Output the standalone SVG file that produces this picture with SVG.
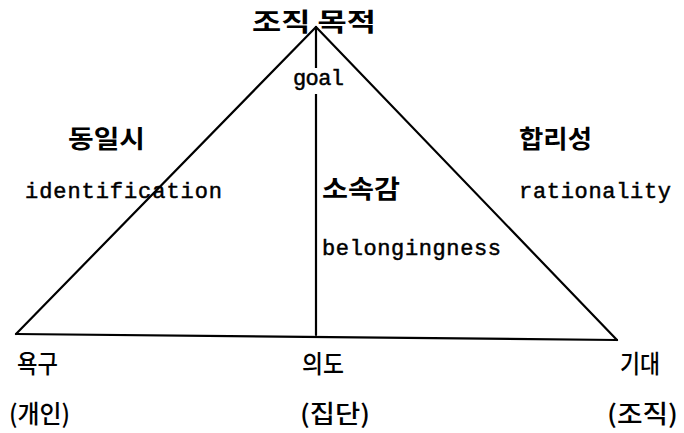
<svg xmlns="http://www.w3.org/2000/svg" width="684" height="433" viewBox="0 0 684 433">
<style>
.ko{font-family:"Noto Sans CJK KR","Noto Sans",sans-serif;font-size:25px;font-weight:bold;fill:#000}
.ko2{font-family:"Noto Sans CJK KR","Noto Sans",sans-serif;font-size:25px;font-weight:500;fill:#000}
.en{font-family:"Liberation Mono","DejaVu Sans Mono",monospace;font-size:22px;fill:#000;stroke:#000;stroke-width:0.5}
.ln{stroke:#000;stroke-width:2.2;fill:none;stroke-linecap:round}
</style>
<rect width="684" height="433" fill="#fff"/>
<g id="connectors">
<line class="ln" x1="316" y1="27" x2="16" y2="334"/>
<line class="ln" x1="316" y1="27" x2="617" y2="340"/>
<line class="ln" x1="16" y1="334" x2="617" y2="340"/>
<line class="ln" x1="316" y1="27" x2="316" y2="335"/>
</g>
<g id="apex"><text class="ko" x="252" y="31" textLength="124" lengthAdjust="spacingAndGlyphs">조직 목적</text></g>
<g id="goal"><rect x="292" y="68" width="54" height="26" fill="#fff"/><text class="en" x="293" y="85" textLength="51">goal</text></g>
<g id="identification-node">
<text class="ko" x="68" y="148" textLength="77" lengthAdjust="spacingAndGlyphs">동일시</text>
<text class="en" x="25" y="198" textLength="197">identification</text>
</g>
<g id="belonging-node">
<text class="ko" x="322" y="198" textLength="78" lengthAdjust="spacingAndGlyphs">소속감</text>
<text class="en" x="322" y="255" textLength="179">belongingness</text>
</g>
<g id="rationality-node">
<text class="ko" x="519" y="148" textLength="73" lengthAdjust="spacingAndGlyphs">합리성</text>
<text class="en" x="519" y="198" textLength="152">rationality</text>
</g>
<g id="need"><text class="ko2" x="17" y="373" textLength="41" lengthAdjust="spacingAndGlyphs">욕구</text><text class="ko2" x="9" y="423" textLength="61" lengthAdjust="spacingAndGlyphs">(개인)</text></g>
<g id="intent"><text class="ko2" x="302" y="373" textLength="42" lengthAdjust="spacingAndGlyphs">의도</text><text class="ko2" x="300" y="423" textLength="70" lengthAdjust="spacingAndGlyphs">(집단)</text></g>
<g id="expectation"><text class="ko2" x="620" y="373" textLength="40" lengthAdjust="spacingAndGlyphs">기대</text><text class="ko2" x="607" y="423" textLength="71" lengthAdjust="spacingAndGlyphs">(조직)</text></g>
</svg>
